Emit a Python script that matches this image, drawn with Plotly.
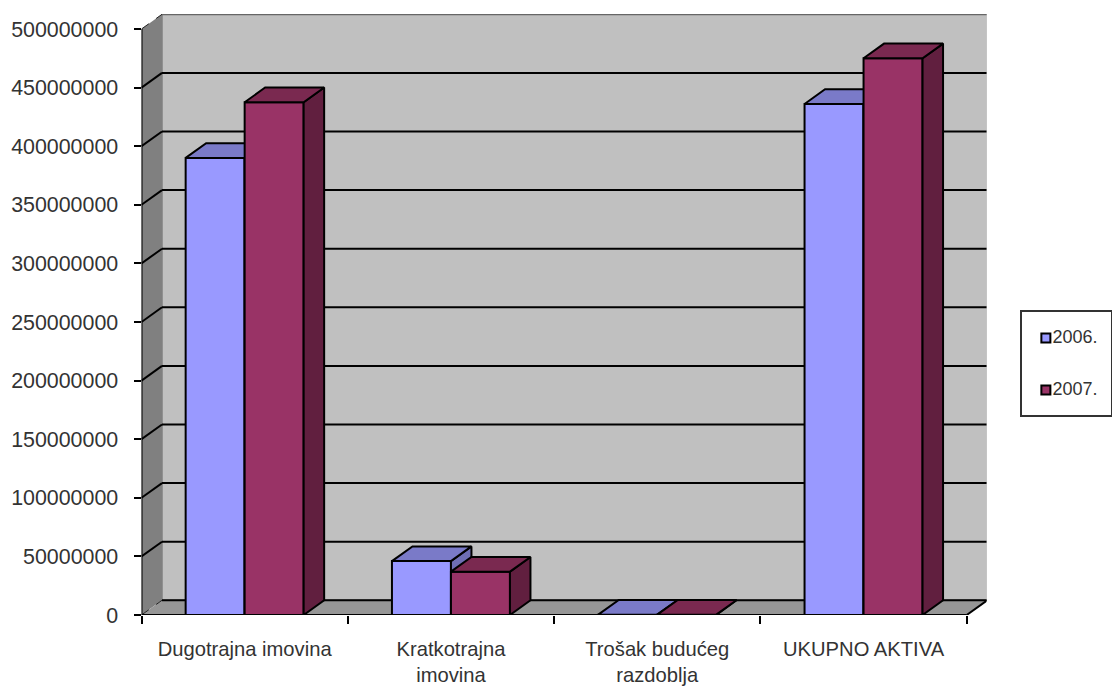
import plotly.graph_objects as go

categories = ["Dugotrajna imovina", "Kratkotrajna<br>imovina", "Trošak budućeg<br>razdoblja", "UKUPNO AKTIVA"]
series_names = ["2006.", "2007."]
values_2006 = [390000000, 46000000, 300000, 436000000]
values_2007 = [437500000, 37000000, 300000, 475000000]
y_ticks = [0, 50000000, 100000000, 150000000, 200000000, 250000000,
           300000000, 350000000, 400000000, 450000000, 500000000]

FONT = "Liberation Sans, Arial, sans-serif"
W, H = 1112, 687
L, R, T, B = 141.5, 986.5, 14.0, 615.0
CAT_PX = 206.3
VAL_PER_PX = 500000000 / 586.0
DX = 20.5 / CAT_PX
DY = 14.7 * VAL_PER_PX
BAR_W = 59.0 / CAT_PX
N = len(categories)
x_range = [0, (R - L) / CAT_PX]
y_range = [0, (B - T) * VAL_PER_PX]
centers = [i + 0.5 for i in range(N)]

COL_06, COL_06_TOP, COL_06_SIDE = "#9999FF", "#7A7AC8", "#6E6EB4"
COL_07, COL_07_TOP, COL_07_SIDE = "#993366", "#7A2950", "#611F3F"
EDGE = "#000000"
EDGE_W = 2

fig = go.Figure()


def faces(vals, side, xa, ya, top_col, side_col):
    for c, v in zip(centers, vals):
        x0 = c - BAR_W if side == 0 else c
        x1 = x0 + BAR_W
        fig.add_trace(go.Scatter(
            x=[x1, x1 + DX, x1 + DX, x1, x1], y=[0, DY, v + DY, v, 0],
            mode="lines", fill="toself", fillcolor=side_col,
            line=dict(color=EDGE, width=EDGE_W), xaxis=xa, yaxis=ya,
            showlegend=False, hoverinfo="skip"))
        fig.add_trace(go.Scatter(
            x=[x0, x0 + DX, x1 + DX, x1, x0], y=[v, v + DY, v + DY, v, v],
            mode="lines", fill="toself", fillcolor=top_col,
            line=dict(color=EDGE, width=EDGE_W), xaxis=xa, yaxis=ya,
            showlegend=False, hoverinfo="skip"))


# 2006 series on the base axes
fig.add_trace(go.Bar(x=centers, y=values_2006, width=BAR_W, offset=-BAR_W, name=series_names[0],
                     marker=dict(color=COL_06, line=dict(color=EDGE, width=EDGE_W)), showlegend=False))
faces(values_2006, 0, "x", "y", COL_06_TOP, COL_06_SIDE)

# 2007 series on an overlay so that it sits in front of 2006
fig.add_trace(go.Bar(x=centers, y=values_2007, width=BAR_W, offset=0, name=series_names[1],
                     xaxis="x3", yaxis="y3",
                     marker=dict(color=COL_07, line=dict(color=EDGE, width=EDGE_W)), showlegend=False))
faces(values_2007, 1, "x3", "y3", COL_07_TOP, COL_07_SIDE)

# front axis lines, above the floor
fig.add_trace(go.Scatter(x=[0, 0, N], y=[y_ticks[-1], 0, 0], mode="lines", xaxis="x3", yaxis="y3",
                         line=dict(color=EDGE, width=2), cliponaxis=False,
                         showlegend=False, hoverinfo="skip"))

# hand-sized legend panel
fig.add_trace(go.Scatter(
    x=[0, 0], y=[1, 0], mode="markers+text", text=series_names, textposition="middle right",
    textfont=dict(family=FONT, size=18, color="#333333"),
    marker=dict(symbol="square", size=9, color=[COL_06, COL_07], line=dict(color=EDGE, width=2)),
    xaxis="x2", yaxis="y2", showlegend=False, hoverinfo="skip", cliponaxis=False))

top = y_ticks[-1]
shapes = [
    dict(type="rect", x0=DX, x1=N + DX, y0=DY, y1=top + DY, layer="below",
         fillcolor="#C0C0C0", line=dict(color="#808080", width=1.5)),
    dict(type="path", layer="below", fillcolor="#808080", line=dict(width=0),
         path=f"M 0 0 L {DX} {DY} L {DX} {top + DY} L 0 {top} Z"),
    dict(type="path", layer="below", fillcolor="#969696", line=dict(width=0),
         path=f"M 0 0 L {DX} {DY} L {N + DX} {DY} L {N} 0 Z"),
    dict(type="line", x0=DX, x1=N + DX, y0=top + DY, y1=top + DY, layer="below",
         line=dict(color="#666666", width=2)),
    dict(type="line", x0=N, x1=N + DX, y0=0, y1=DY, layer="below", line=dict(color=EDGE, width=2)),
]
for t in y_ticks[:-1]:
    shapes.append(dict(type="line", x0=DX, x1=N + DX, y0=t + DY, y1=t + DY, layer="below",
                       line=dict(color=EDGE, width=2)))
    if t > 0:
        shapes.append(dict(type="line", x0=0, x1=DX, y0=t, y1=t + DY, layer="below",
                           line=dict(color=EDGE, width=2)))
shapes.append(dict(type="line", x0=0, x1=DX, y0=0, y1=DY, layer="below",
                   line=dict(color="#222222", width=1, dash="dash")))
shapes.append(dict(type="line", x0=0, x1=DX, y0=top, y1=top + DY, layer="below",
                   line=dict(color="#222222", width=1, dash="dash")))

dom_x = [L / W, R / W]
dom_y = [(H - B) / H, (H - T) / H]

fig.update_layout(
    width=W, height=H, autosize=False, paper_bgcolor="white", plot_bgcolor="rgba(0,0,0,0)",
    margin=dict(l=0, r=0, t=0, b=0, pad=0), barmode="overlay", showlegend=False, shapes=shapes,
    xaxis=dict(domain=dom_x, range=x_range, showgrid=False, zeroline=False, showline=False,
               automargin=False, tickmode="array", tickvals=centers, ticktext=categories, ticks="",
               tickfont=dict(family=FONT, size=20.2, color="#333333"), ticklabelstandoff=20, tickangle=0,
               minor=dict(tickmode="linear", tick0=0, dtick=1, ticks="outside", ticklen=8,
                          tickwidth=1.5, tickcolor=EDGE, showgrid=False)),
    yaxis=dict(domain=dom_y, range=y_range, showgrid=False, zeroline=False, showline=False,
               automargin=False, tickmode="array", tickvals=y_ticks, ticktext=[str(t) for t in y_ticks],
               ticks="outside", ticklen=7, tickwidth=1.5, tickcolor=EDGE,
               tickfont=dict(family=FONT, size=21.4, color="#333333"), ticklabelstandoff=11),
    xaxis3=dict(domain=dom_x, range=x_range, overlaying="x", visible=False, automargin=False),
    yaxis3=dict(domain=dom_y, range=y_range, overlaying="y", visible=False, automargin=False),
    xaxis2=dict(domain=[1022 / W, 1110.5 / W], range=[-24, 65], showgrid=False,
                zeroline=False, showticklabels=False, automargin=False,
                ticks="", showline=True, mirror=True, linecolor="#333333", linewidth=1.5, anchor="y2"),
    yaxis2=dict(domain=[(H - 415) / H, (H - 312) / H], range=[-0.48, 1.5], showgrid=False, zeroline=False,
                showticklabels=False, automargin=False, ticks="", showline=True, mirror=True,
                linecolor="#333333", linewidth=1.5, anchor="x2"),
)

fig.write_html("out.html", config={"displayModeBar": False},
               post_script="document.body.style.margin='0';")
